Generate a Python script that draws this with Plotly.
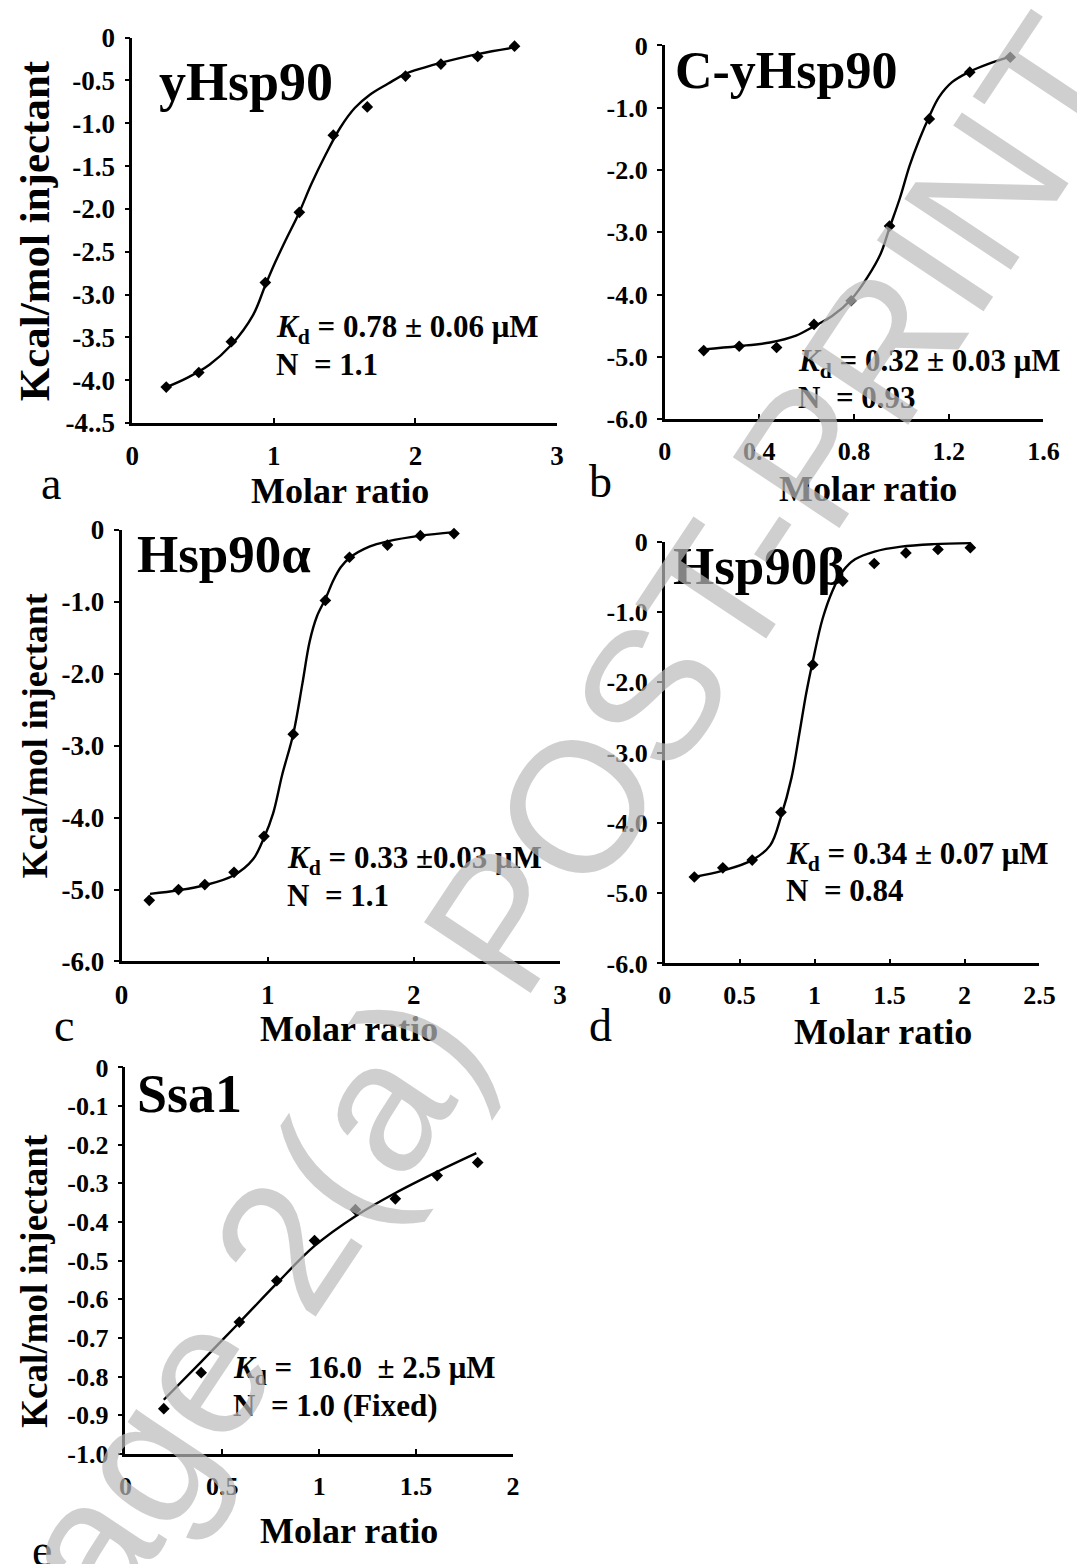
import plotly.graph_objects as go

W, H = 1077, 1564

# ---------------- data (molar ratio vs heat per injection) ----------------
# a  yHsp90
a_x = [0.24, 0.47, 0.70, 0.94, 1.18, 1.42, 1.66, 1.93, 2.18, 2.44, 2.70]
a_y = [-4.08, -3.91, -3.55, -2.86, -2.04, -1.14, -0.81, -0.45, -0.31, -0.22, -0.10]
a_fit_x = [0.237, 0.391, 0.545, 0.699, 0.853, 0.938, 1.008, 1.085, 1.177, 1.265,
           1.368, 1.470, 1.573, 1.676, 1.805, 1.933, 2.062, 2.19, 2.447, 2.704]
a_fit_y = [-4.085, -3.97, -3.82, -3.59, -3.24, -2.90, -2.63, -2.36, -2.05, -1.71,
           -1.36, -1.05, -0.82, -0.67, -0.54, -0.42, -0.35, -0.29, -0.19, -0.115]

# b  C-yHsp90
b_x = [0.165, 0.315, 0.473, 0.631, 0.788, 0.950, 1.118, 1.289, 1.46]
b_y = [-4.90, -4.83, -4.85, -4.48, -4.10, -2.90, -1.18, -0.43, -0.19]
b_fit_x = [0.164, 0.308, 0.445, 0.555, 0.631, 0.706, 0.788, 0.857, 0.912, 0.950,
           0.994, 1.035, 1.076, 1.118, 1.159, 1.214, 1.289, 1.365, 1.460]
b_fit_y = [-4.88, -4.83, -4.77, -4.66, -4.51, -4.35, -4.08, -3.72, -3.35, -2.93,
           -2.45, -1.93, -1.51, -1.14, -0.83, -0.59, -0.42, -0.30, -0.18]

# c  Hsp90alpha
c_x = [0.19, 0.39, 0.57, 0.77, 0.975, 1.175, 1.395, 1.56, 1.82, 2.045, 2.275]
c_y = [-5.15, -5.00, -4.93, -4.76, -4.26, -2.84, -0.98, -0.38, -0.21, -0.08, -0.05]
c_fit_x = [0.195, 0.39, 0.57, 0.77, 0.90, 0.975, 1.0375, 1.10, 1.175, 1.2375,
           1.2875, 1.3375, 1.395, 1.45, 1.50, 1.56, 1.70, 1.82, 2.045, 2.275]
c_fit_y = [-5.06, -5.01, -4.94, -4.80, -4.58, -4.28, -3.94, -3.40, -2.84, -2.14,
           -1.55, -1.20, -0.96, -0.70, -0.52, -0.39, -0.23, -0.16, -0.08, -0.03]

# d  Hsp90beta
d_x = [0.198, 0.388, 0.584, 0.776, 0.988, 1.188, 1.398, 1.609, 1.823, 2.039]
d_y = [-4.77, -4.64, -4.53, -3.85, -1.75, -0.56, -0.31, -0.16, -0.11, -0.085]
d_fit_x = [0.198, 0.388, 0.584, 0.704, 0.776, 0.846, 0.90, 0.944, 0.988, 1.053,
           1.119, 1.188, 1.27, 1.40, 1.577, 1.795, 2.039]
d_fit_y = [-4.77, -4.68, -4.53, -4.32, -3.91, -3.36, -2.71, -2.16, -1.70, -1.10,
           -0.70, -0.42, -0.25, -0.14, -0.07, -0.035, -0.02]

# e  Ssa1
e_x = [0.198, 0.391, 0.588, 0.781, 0.976, 1.187, 1.393, 1.609, 1.818]
e_y = [-0.883, -0.79, -0.659, -0.552, -0.448, -0.368, -0.340, -0.280, -0.246]
e_fit_x = [0.198, 0.391, 0.588, 0.781, 0.976, 1.187, 1.393, 1.609, 1.811]
e_fit_y = [-0.86, -0.762, -0.66, -0.559, -0.462, -0.385, -0.325, -0.27, -0.222]

# tick values / labels
a_xticks = [0, 1, 2, 3]
a_yticks = [0, -0.5, -1.0, -1.5, -2.0, -2.5, -3.0, -3.5, -4.0, -4.5]
a_yticktext = ["0", "-0.5", "-1.0", "-1.5", "-2.0", "-2.5", "-3.0", "-3.5", "-4.0", "-4..5"]
b_xticks = [0, 0.4, 0.8, 1.2, 1.6]
b_xticktext = ["0", "0.4", "0.8", "1.2", "1.6"]
six_yticks = [0, -1, -2, -3, -4, -5, -6]
six_yticktext = ["0", "-1.0", "-2.0", "-3.0", "-4.0", "-5.0", "-6.0"]
c_xticks = [0, 1, 2, 3]
d_xticks = [0, 0.5, 1, 1.5, 2, 2.5]
d_xticktext = ["0", "0.5", "1", "1.5", "2", "2.5"]
e_xticks = [0, 0.5, 1, 1.5, 2]
e_xticktext = ["0", "0.5", "1", "1.5", "2"]
e_yticks = [0, -0.1, -0.2, -0.3, -0.4, -0.5, -0.6, -0.7, -0.8, -0.9, -1.0]
e_yticktext = ["0", "-0.1", "-0.2", "-0.3", "-0.4", "-0.5", "-0.6", "-0.7", "-0.8", "-0.9", "-1.0"]

SERIF = "Liberation Serif, Times New Roman, serif"

# plot boxes in pixels: (left, right, top, bottom)
panels = [
    dict(box=(128, 562, 23, 416), xr=[0, 3], yr=[-4.5, 0],
         xt=a_xticks, xtt=[str(v) for v in a_xticks], yt=a_yticks, ytt=a_yticktext,
         x=a_x, y=a_y, fx=a_fit_x, fy=a_fit_y, tfs=27),
    dict(box=(672, 1059, 31, 412), xr=[0, 1.6], yr=[-6, 0],
         xt=b_xticks, xtt=b_xticktext, yt=six_yticks, ytt=six_yticktext,
         x=b_x, y=b_y, fx=b_fit_x, fy=b_fit_y, tfs=26),
    dict(box=(117, 565, 525, 965), xr=[0, 3], yr=[-6, 0],
         xt=c_xticks, xtt=[str(v) for v in c_xticks], yt=six_yticks, ytt=six_yticktext,
         x=c_x, y=c_y, fx=c_fit_x, fy=c_fit_y, tfs=27),
    dict(box=(672, 1055, 537, 967), xr=[0, 2.5], yr=[-6, 0],
         xt=d_xticks, xtt=d_xticktext, yt=six_yticks, ytt=six_yticktext,
         x=d_x, y=d_y, fx=d_fit_x, fy=d_fit_y, tfs=26),
    dict(box=(121, 517, 1073, 1467), xr=[0, 2], yr=[-1, 0],
         xt=e_xticks, xtt=e_xticktext, yt=e_yticks, ytt=e_yticktext,
         x=e_x, y=e_y, fx=e_fit_x, fy=e_fit_y, tfs=26),
]

fig = go.Figure()
layout = dict(
    width=W, height=H, margin=dict(l=0, r=0, t=0, b=0),
    paper_bgcolor="white", plot_bgcolor="white", showlegend=False,
    font=dict(family=SERIF, color="black"),
)

for i, p in enumerate(panels, start=1):
    sfx = "" if i == 1 else str(i)
    l, r, t, b = p["box"]
    tickfont = dict(family=SERIF, size=p["tfs"], color="black", weight=700)
    layout["xaxis" + sfx] = dict(
        domain=[l / W, r / W], range=p["xr"], anchor="y" + sfx,
        showline=True, linecolor="black", linewidth=2.5,
        ticks="inside", ticklen=5, tickwidth=2, tickcolor="black",
        tickvals=p["xt"], ticktext=p["xtt"], tickfont=tickfont,
        ticklabelstandoff=7, showgrid=False, zeroline=False, fixedrange=True,
    )
    layout["yaxis" + sfx] = dict(
        domain=[1 - b / H, 1 - t / H], range=p["yr"], anchor="x" + sfx,
        showline=True, linecolor="black", linewidth=2.5,
        ticks="outside", ticklen=5, tickwidth=2, tickcolor="black",
        tickvals=p["yt"], ticktext=p["ytt"], tickfont=tickfont,
        ticklabelstandoff=4, showgrid=False, zeroline=False, fixedrange=True,
    )
    fig.add_trace(go.Scatter(
        x=p["fx"], y=p["fy"], mode="lines", line=dict(color="black", width=2.4, shape="spline"),
        xaxis="x" + sfx, yaxis="y" + sfx, cliponaxis=False,
    ))
    fig.add_trace(go.Scatter(
        x=p["x"], y=p["y"], mode="markers",
        marker=dict(symbol="diamond", size=9, color="black"),
        xaxis="x" + sfx, yaxis="y" + sfx, cliponaxis=False,
    ))

annotations = []


def text_at(px, py, text, size, xanchor="left", yanchor="middle", angle=0, family=SERIF,
            weight=700, color="black"):
    annotations.append(dict(
        x=px / W, y=1 - py / H, xref="paper", yref="paper", text=text, showarrow=False,
        xanchor=xanchor, yanchor=yanchor, textangle=angle,
        font=dict(family=family, size=size, color=color, weight=weight),
    ))


# panel titles
text_at(153, 68, "yHsp90", 54)
text_at(681, 57, "C-yHsp90", 52)
text_at(131, 550, "Hsp90α", 53)
text_at(678, 562, "Hsp90β", 53)
text_at(131, 1100, "Ssa1", 54)

# fit parameters
kd = "<i>K</i><sub>d</sub>"
text_at(273, 320, kd + " = 0.78 ± 0.06 μM", 31)
text_at(273, 356, "N  = 1.1", 31)
text_at(806, 355, kd + " = 0.32 ± 0.03 μM", 31)
text_at(806, 390, "N  = 0.93", 31)
text_at(284, 862, kd + " = 0.33 ±0.03 μM", 31)
text_at(284, 898, "N  = 1.1", 31)
text_at(794, 857, kd + " = 0.34 ± 0.07 μM", 31)
text_at(794, 893, "N  = 0.84", 31)
text_at(229, 1382, kd + " =  16.0  ± 2.5 μM", 31)
text_at(229, 1418, "N  = 1.0 (Fixed)", 31)

# axis titles
text_at(28, 220, "Kcal/mol injectant", 43, xanchor="center", angle=-90)
text_at(28, 735, "Kcal/mol injectant", 36, xanchor="center", angle=-90)
text_at(28, 1290, "Kcal/mol injectant", 37, xanchor="center", angle=-90)
text_at(340, 485, "Molar ratio", 36, xanchor="center")
text_at(880, 483, "Molar ratio", 36, xanchor="center")
text_at(349, 1034, "Molar ratio", 36, xanchor="center")
text_at(895, 1037, "Molar ratio", 36, xanchor="center")
text_at(349, 1546, "Molar ratio", 36, xanchor="center")

# panel letters
for lx, ly, letter in [(45, 478, "a"), (606, 476, "b"), (58, 1030, "c"),
                       (606, 1030, "d"), (36, 1566, "e")]:
    text_at(lx, ly, letter, 46, xanchor="center", weight=400)

# diagonal watermark over the figure
text_at(527, 891, "Stage 2(a) POST-PRINT", 186, xanchor="center", angle=-56.4,
        family="Liberation Sans, Arial, sans-serif", weight=400,
        color="rgba(186,186,186,0.7)")

layout["annotations"] = annotations
fig.update_layout(**layout)
fig.write_html("out.html")
